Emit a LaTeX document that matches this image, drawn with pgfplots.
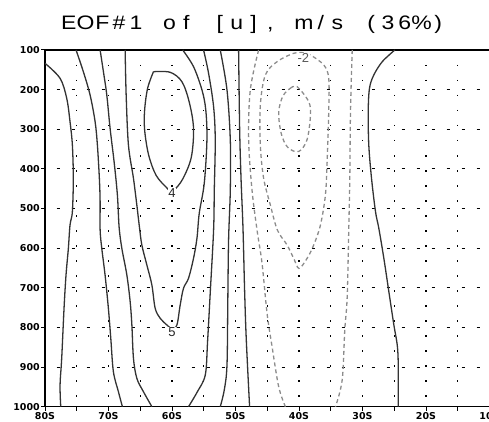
\documentclass[border=0pt]{standalone}
\usepackage{pgfplots}
\pgfplotsset{compat=1.18}
\usepackage{fontspec}
\newfontfamily\tickfont{DejaVu Sans}
\newfontfamily\titlefont{Liberation Sans}
\newfontfamily\labfont{Liberation Sans}
% fixed-pitch, slightly widened cells for the title
\newcommand\cell[1]{\makebox[16.8pt]{\scalebox{1.18}[1]{#1}}}

\begin{document}
\begin{tikzpicture}
\begin{axis}[
  at={(45pt,15.3pt)}, anchor=south west,
  scale only axis, width=444.5pt, height=356.7pt,
  xmin=-80, xmax=-10, ymin=100, ymax=1000, y dir=reverse,
  axis line style={line width=1.2pt, black},
  xtick={-80,-70,...,-10},
  xticklabels={80S,70S,60S,50S,40S,30S,20S,10S},
  minor xtick={-75,-65,...,-15},
  ytick={100,200,...,1000},
  yticklabels={100,200,300,400,500,600,700,800,900,1000},
  tick align=outside, xtick pos=bottom, ytick pos=left,
  major tick length=4pt, minor tick length=4pt,
  tick style={line width=1pt, black},
  ticklabel style={font=\tickfont\bfseries\fontsize{9.5}{10}\selectfont, inner sep=0pt},
  xticklabel style={anchor=north, yshift=-1.3pt},
  yticklabel style={anchor=east, xshift=-1pt},
  xmajorgrids, xminorgrids, ymajorgrids,
  major x grid style={black, line width=1.1pt, dash pattern=on 1.5pt off 13.5pt},
  minor x grid style={black, line width=1.1pt, dash pattern=on 1.5pt off 13.5pt},
  major y grid style={black, line width=1.1pt, dash pattern=on 3.5pt off 11.5pt, dash phase=3.3pt},
  solidc/.style={black!80, line width=1.3pt, smooth, tension=0.55, mark=none},
  dashc/.style={black!45, line width=1.3pt, smooth, tension=0.55, mark=none, dash pattern=on 4pt off 3pt},
  clip=true,
]
% positive contours (solid)
\addplot[solidc] coordinates {
  (-80.0,133.6) (-77.63,171.4) (-76.58,221.9) (-76.06,280.9) (-75.69,339.7)
  (-75.54,423.7) (-75.69,508.0) (-76.06,541.5) (-76.32,600.3) (-76.69,667.7)
  (-77.0,751.0) (-77.37,877.8) (-77.63,945.2) (-77.52,1000)};
\addplot[solidc] coordinates {
  (-75.11,100) (-73.96,154.8) (-72.90,213.5) (-72.11,280.9) (-71.75,339.7)
  (-71.44,423.7) (-71.32,482.7) (-71.32,554.1) (-71.06,600.3) (-70.54,667.7)
  (-70.02,751.7) (-69.64,827.4) (-69.23,911.6) (-68.44,962.1) (-67.81,1000)};
\addplot[solidc] coordinates {
  (-71.32,100) (-70.80,154.8) (-70.27,213.5) (-69.75,297.6) (-69.12,381.8)
  (-68.60,465.8) (-68.33,546.6) (-67.90,600.3) (-67.11,667.7) (-66.59,735)
  (-66.32,793.8) (-66.07,877.8) (-65.54,928.3) (-64.50,962.1) (-63.17,1000)};
\addplot[solidc] coordinates {
  (-67.38,100) (-67.22,213.5) (-66.86,339.7) (-66.07,423.7) (-65.54,491)
  (-65.13,546.6) (-64.75,592) (-63.96,642.4) (-63.17,692.9) (-62.65,751.7)
  (-61.86,776.9) (-60.80,793.8) (-60.0,803) (-59.23,793.8) (-58.71,743.4)
  (-58.19,701.2) (-57.40,676) (-56.61,625.5) (-56.07,575.1) (-55.71,512)
  (-54.92,436.3) (-54.50,327.1) (-54.68,251.4) (-55.28,200.9) (-56.61,142.1)
  (-58.31,100)};
\addplot[solidc] coordinates {
  (-62.92,154.8) (-60.28,156.3) (-58.44,180) (-57.29,231.2) (-56.61,297.6)
  (-56.97,371.2) (-58.31,425.5) (-59.65,453.2) (-60.3,455) (-60.80,448.2)
  (-62.49,416.6) (-63.68,364.9) (-64.31,301.8) (-64.31,251.4) (-63.83,195.9)
  (-62.92,154.8)};
\addplot[solidc] coordinates {
  (-55.03,100) (-54.24,158.8) (-53.45,243.1) (-53.19,327.1) (-53.34,453.2)
  (-53.45,554.1) (-53.97,709.8) (-54.40,836) (-54.76,920) (-56.03,962.9)
  (-57.40,1000)};
\addplot[solidc] coordinates {
  (-52.40,100) (-51.34,200.9) (-50.82,327.1) (-50.82,453.2) (-51.09,579.4)
  (-51.21,730.8) (-51.34,894.7) (-51.77,957.8) (-52.40,1000)};
\addplot[solidc] coordinates {
  (-49.51,100) (-49.35,297.6) (-49.13,423.7) (-48.82,549.8) (-48.56,709.8)
  (-48.30,831.7) (-47.78,1000)};
\addplot[solidc] coordinates {
  (-24.91,100) (-26.89,129.5) (-28.22,163.1) (-28.90,196.6) (-29.10,255.7)
  (-29.01,339.7) (-28.58,423.7) (-27.95,508) (-27.43,549.8) (-26.64,625.5)
  (-25.85,709.8) (-25.06,793.8) (-24.53,844.3) (-24.37,894.7) (-24.37,1000)};
% negative contours (dashed)
\addplot[dashc] coordinates {
  (-46.36,100) (-47.67,200.9) (-47.93,327.1) (-47.40,453.2) (-46.61,554.1)
  (-45.82,638.2) (-45.03,764.3) (-44.24,848.6) (-43.20,949.5) (-42.15,1000)};
\addplot[dashc] coordinates {
  (-31.62,100) (-31.89,255.7) (-32.0,423.7) (-32.16,549.8) (-32.41,722.4)
  (-32.79,806.4) (-33.20,932.6) (-34.26,1000)};
\addplot[dashc] coordinates {
  (-39.3,107) (-40.84,108.3) (-43.45,129.5) (-45.30,163.1) (-46.09,238.8)
  (-46.09,339.7) (-45.57,423.7) (-44.51,491.1) (-43.41,554.1) (-41.88,592)
  (-40.84,625.5) (-40.0,651) (-38.72,625.5) (-37.68,592) (-36.62,541.5)
  (-35.84,465.8) (-35.57,381.8) (-35.32,255.7) (-35.32,171.4) (-36.10,137.8)
  (-38.20,112.6) (-39.3,107)};
\addplot[dashc] coordinates {
  (-41.36,196.6) (-40.30,192.6) (-38.47,230.4) (-38.20,266.5) (-38.75,327.1)
  (-40.05,356.1) (-41.75,346) (-42.78,311.9) (-43.20,257.7) (-42.54,216.1)
  (-41.36,196.6)};
% contour labels
\node[fill=white, inner sep=0.6pt, font=\labfont\fontsize{13}{13}\selectfont, text=black!85] at (axis cs:-60,460) {4};
\node[fill=white, inner sep=0.6pt, font=\labfont\fontsize{13}{13}\selectfont, text=black!85] at (axis cs:-60,813) {5};
\node[fill=white, inner sep=0.6pt, font=\labfont\fontsize{13}{13}\selectfont, text=black!65] at (axis cs:-39.3,120) {-2};
\end{axis}
\node[anchor=base, font=\titlefont\fontsize{19.5}{20}\selectfont] at (253.5pt,392pt)
  {\cell{E}\cell{O}\cell{F}\cell{\#}\cell{1}\cell{}\cell{o}\cell{f}\cell{}\cell{[}\cell{u}\cell{]}\cell{,}\cell{}\cell{m}\cell{/}\cell{s}\cell{}\cell{(}\cell{3}\cell{6}\cell{\%}\cell{)}};
\pgfresetboundingbox
\path (0,0) rectangle (489pt,422pt);
\end{tikzpicture}
\end{document}
